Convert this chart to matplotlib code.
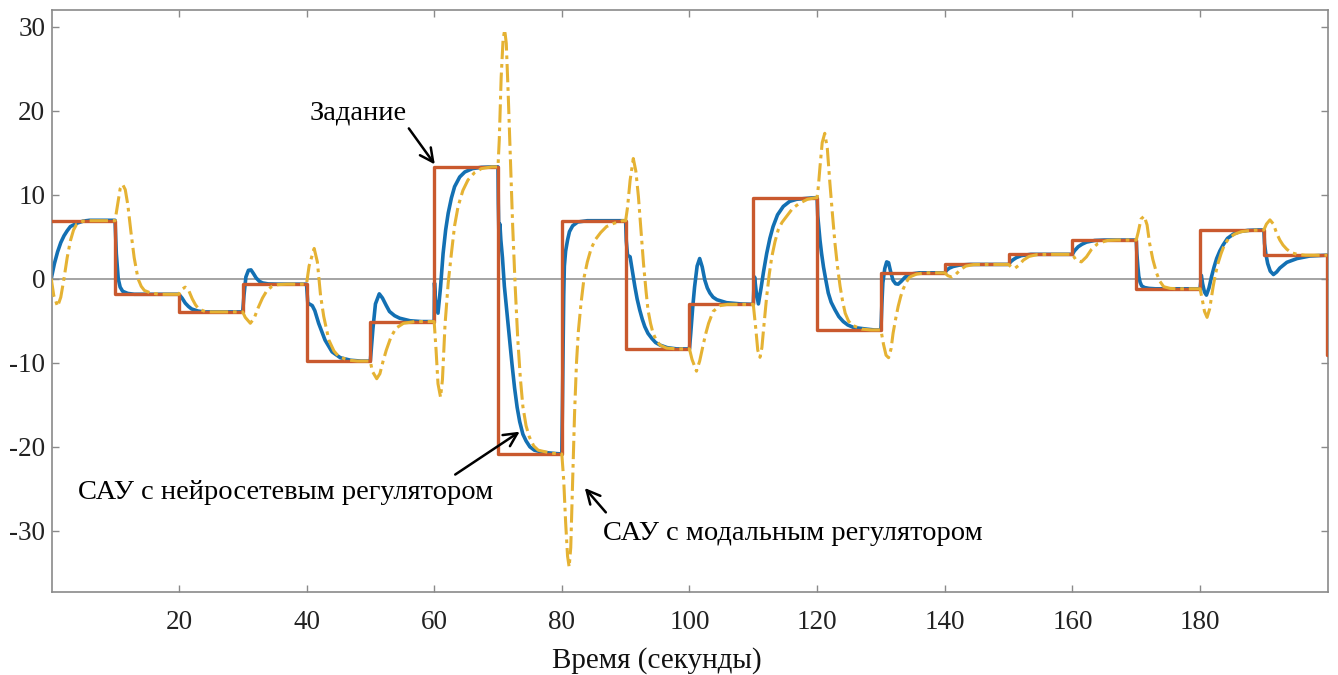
import matplotlib
matplotlib.use("Agg")
import matplotlib.pyplot as plt

# ---------------- data ----------------
ref_times = [0, 10, 20, 30, 40, 50, 60, 70, 80, 90, 100, 110, 120, 130, 140, 150,
             160, 170, 180, 190, 199.85, 200]
ref_levels = [6.9, -1.85, -3.95, -0.65, -9.8, -5.1, 13.3, -20.85, 6.9, -8.35, -3.05,
              9.65, -6.1, 0.7, 1.7, 2.9, 4.6, -1.2, 5.8, 2.8, -9.1, -9.1]

t_nn = [0, 0.5, 1, 1.5, 2, 2.5, 3, 4, 5, 6, 8,
        10, 10.2, 10.5, 10.8, 11.2, 12, 13,
        20, 20.5, 21, 21.5, 22, 23, 24, 25.5,
        30, 30.2, 30.5, 30.9, 31.3, 31.7, 32.1, 32.6, 33.1, 34, 35.5,
        40, 40.2, 40.9, 41.3, 41.9, 42.9, 44, 45.3, 46.9, 48.5,
        50, 50.4, 50.8, 51.4, 51.9, 52.5, 53, 53.8, 54.6, 56.2, 58,
        60, 60.05, 60.2, 60.6, 61, 61.4, 61.8, 62.2, 62.7, 63.2, 64, 64.8, 66, 67.4, 69,
        70, 70.05, 70.15, 70.3, 70.45, 70.7, 71.0, 71.4, 71.8, 72.2, 72.6, 73.0, 73.4,
        73.9, 74.4, 75, 75.7, 77, 79,
        80, 80.1, 80.2, 80.3, 80.4, 80.6, 80.9, 81.2, 81.7, 82.5, 84, 86,
        90, 90.1, 90.3, 90.7, 91.0, 91.45, 91.8, 92.2, 92.6, 93.0, 93.5, 94.1, 94.7,
        95.4, 96.5, 98,
        100, 100.2, 100.5, 100.8, 101.2, 101.6, 102.0, 102.4, 102.8, 103.2, 103.7,
        104.3, 105.8, 108,
        110, 110.1, 110.2, 110.45, 110.8, 111.2, 111.6, 112.1, 112.6, 113.1, 113.8,
        114.7, 115.7, 116.8, 119,
        120, 120.1, 120.45, 120.7, 121.0, 121.4, 121.75, 122.2, 122.8, 123.4, 124.1,
        124.8, 125.7, 127.8, 129,
        130, 130.15, 130.3, 130.6, 130.9, 131.2, 131.5, 131.9, 132.3, 132.7, 133.2,
        133.8, 134.6, 136,
        140, 140.3, 140.7, 141.3, 142.3, 144,
        150, 150.3, 150.7, 151.2, 152, 153.5,
        160, 160.3, 160.9, 161.5, 162.2, 163.5, 165,
        170, 170.1, 170.25, 170.4, 170.6, 170.85, 171.3, 172, 173,
        180, 180.1, 180.2, 180.4, 180.7, 181.0, 181.4, 181.8, 182.2, 182.6, 183.1,
        183.6, 184.3, 185.2, 186.2, 187.5, 189,
        190, 190.1, 190.3, 190.6, 191.0, 191.5, 192.0, 192.5, 193.6, 195.2, 197.2, 199.9]
y_nn = [0, 1.8, 3.2, 4.3, 5.1, 5.7, 6.2, 6.6, 6.85, 6.95, 6.95,
        6.95, 3.0, 0.0, -1.0, -1.5, -1.75, -1.85,
        -1.85, -2.3, -2.9, -3.3, -3.6, -3.85, -3.95, -3.95,
        -3.95, -2.0, 0.2, 1.0, 1.05, 0.6, 0.1, -0.3, -0.5, -0.62, -0.65,
        -0.65, -2.9, -3.2, -3.8, -5.3, -7.3, -8.7, -9.4, -9.7, -9.8,
        -9.8, -6.0, -3.0, -1.8, -2.3, -3.2, -3.9, -4.4, -4.7, -5.0, -5.1,
        -5.1, -0.5, -2.5, -4.1, -1.0, 3.0, 5.8, 7.8, 9.6, 10.95, 12.1, 12.7, 13.1, 13.25, 13.3,
        13.3, 9.0, 5.0, 6.5, 4.6, 2.5, -0.9, -4.0, -7.2, -10.2, -13.0, -15.3, -17.0,
        -18.5, -19.3, -20.0, -20.4, -20.65, -20.8,
        -20.85, -15.0, -8.0, -2.0, 1.5, 3.3, 4.6, 5.6, 6.3, 6.75, 6.9, 6.9,
        6.9, 4.5, 2.8, 2.6, 1.2, -0.95, -2.4, -3.7, -4.8, -5.7, -6.5, -7.1, -7.6,
        -7.9, -8.2, -8.35,
        -8.35, -6.5, -3.5, -1.0, 1.5, 2.4, 1.4, -0.15, -1.1, -1.7, -2.2,
        -2.5, -2.85, -3.0,
        -3.05, -1.0, 0.2, -1.5, -3.0, -1.2, 0.8, 3.0, 4.8, 6.2, 7.6,
        8.6, 9.2, 9.45, 9.6,
        9.65, 7.5, 4.6, 3.0, 1.4, -0.3, -1.7, -2.8, -3.7, -4.5, -5.1,
        -5.5, -5.8, -6.0, -6.1,
        -6.1, -3.0, -0.5, 1.2, 2.0, 1.9, 0.9, -0.2, -0.6, -0.65, -0.3,
        0.2, 0.55, 0.7,
        0.7, 1.0, 1.25, 1.45, 1.62, 1.7,
        1.7, 2.0, 2.25, 2.5, 2.75, 2.9,
        2.9, 3.3, 3.8, 4.1, 4.35, 4.55, 4.6,
        4.6, 3.0, 1.5, 0.3, -0.4, -0.85, -1.05, -1.15, -1.2,
        -1.2, -0.5, 0.4, -0.6, -1.6, -1.95, -1.1, 0.25, 1.4, 2.4, 3.3,
        4.0, 4.8, 5.3, 5.6, 5.75, 5.8,
        5.8, 4.2, 3.0, 1.8, 0.9, 0.5, 0.8, 1.27, 1.95, 2.4, 2.7, 2.8]

t_modal = [0, 0.4, 1.0, 1.5, 2, 2.5, 3, 3.5, 4, 5, 6,
           10, 10.4, 10.8, 11.2, 11.6, 12.0, 12.5, 13, 13.6, 14.1, 14.6, 15.6, 17,
           20, 20.4, 21.0, 21.6, 22.1, 22.6, 23.1, 24.1, 25,
           30, 30.4, 31.2, 31.8, 32.4, 33.1, 33.8, 34.6, 35.6, 37,
           40, 40.4, 41.2, 41.7, 42.2, 42.7, 43.5, 44.3, 45.1, 46.7, 48,
           50, 50.3, 51.0, 51.5, 52.0, 52.5, 53.2, 54.0, 55.2, 57,
           60, 60.3, 60.6, 61.0, 61.3, 61.7, 62.2, 62.7, 63.2, 63.75, 64.5, 65.3, 66.3,
           67.4, 69,
           70, 70.2, 70.5, 70.8, 71.05, 71.3, 71.6, 71.95, 72.3, 72.7, 73.1, 73.5, 73.9,
           74.4, 74.9, 75.6, 76.3, 78, 79.5,
           80, 80.3, 80.6, 80.9, 81.15, 81.4, 81.7, 82.0, 82.3, 82.6, 83.0, 83.5, 84,
           84.6, 85.3, 86.1, 87, 88.2, 89.5,
           90, 90.3, 90.7, 91.2, 91.6, 92.0, 92.4, 92.8, 93.2, 93.5, 93.9, 94.3, 94.8,
           95.4, 96.4, 98,
           100, 100.4, 101.1, 101.6, 102.2, 102.6, 103.0, 103.7, 104.8, 106,
           110, 110.4, 110.7, 111.05, 111.35, 111.6, 112.1, 112.5, 112.9, 113.4, 113.9,
           114.5, 115.2, 116.2, 117.3, 118.5, 119.5,
           120, 120.2, 120.45, 120.8, 121.2, 121.6, 122.0, 122.4, 122.8, 123.2, 123.6,
           124.0, 124.4, 124.9, 125.4, 127, 128.5,
           130, 130.4, 130.8, 131.2, 131.6, 131.9, 132.3, 132.7, 133.1, 133.5, 134.0,
           134.5, 135.6, 137,
           140, 140.5, 141.1, 141.7, 142.5, 143.3, 144.5, 146,
           150, 150.4, 151.0, 151.6, 152.3, 153.2, 154.5, 156,
           160, 160.5, 161.4, 162.2, 163, 164, 165.5, 167,
           170, 170.3, 170.75, 171.25, 171.7, 172.1, 172.6, 173.2, 173.7, 174.3, 175.3,
           176.5,
           180, 180.35, 180.7, 181.1, 181.5, 182.05, 182.4, 182.8, 183.3, 183.8, 184.5,
           185.4, 186.5, 188, 189.5,
           190, 190.4, 190.95, 191.5, 192.0, 192.5, 193.0, 193.6, 194.3, 195.2, 196.5,
           199.9]
y_modal = [0, -2.0, -3.3, -2.2, 0, 2.5, 4.5, 5.8, 6.5, 6.85, 6.9,
           6.9, 8.8, 10.7, 11.2, 10.6, 8.8, 5.5, 2.5, 0, -0.9, -1.4, -1.7, -1.85,
           -1.85, -1.3, -1.0, -1.5, -2.4, -3.1, -3.6, -3.9, -3.95,
           -3.95, -4.6, -5.3, -4.7, -3.5, -2.3, -1.4, -0.9, -0.7, -0.65,
           -0.65, 1.5, 3.6, 2.0, -2.0, -4.5, -7.3, -8.6, -9.3, -9.7, -9.8,
           -9.8, -11.0, -11.9, -11.3, -9.8, -8.5, -7.0, -5.9, -5.3, -5.1,
           -5.1, -8.5, -12.5, -14.1, -12.0, -5.5, -0.5, 3.0, 6.3, 8.6, 10.5, 11.75, 12.6,
           13.1, 13.3,
           13.3, 16.5, 24.0, 28.5, 29.6, 28.0, 22.0, 14.0, 6.3, -1.0, -7.2, -11.8, -15.2,
           -17.5, -18.8, -19.9, -20.4, -20.7, -20.85,
           -20.85, -24.0, -29.0, -33.0, -34.3, -32.0, -24.0, -16.0, -10.0, -6.2, -3.0, 0.2, 2.0,
           3.6, 4.7, 5.5, 6.2, 6.6, 6.9,
           6.9, 8.5, 11.7, 14.3, 12.8, 9.8, 5.8, 1.8, -1.5, -3.7, -5.3, -6.5, -7.3,
           -7.9, -8.25, -8.35,
           -8.35, -9.6, -11.0, -9.8, -7.7, -6.4, -5.3, -3.9, -3.2, -3.05,
           -3.05, -6.0, -8.5, -9.35, -8.2, -6.1, -2.1, 0.5, 2.6, 4.4, 5.8,
           6.7, 7.4, 8.4, 9.0, 9.45, 9.6,
           9.65, 11.0, 13.3, 16.2, 17.3, 15.5, 11.4, 7.7, 4.2, 1.4, -0.9,
           -2.7, -4.1, -5.0, -5.5, -6.0, -6.1,
           -6.1, -7.8, -9.1, -9.4, -8.3, -6.5, -4.8, -3.3, -2.1, -1.2, -0.4,
           0.2, 0.55, 0.7,
           0.7, 0.35, 0.2, 0.5, 1.1, 1.5, 1.68, 1.7,
           1.7, 1.4, 1.25, 1.6, 2.2, 2.65, 2.87, 2.9,
           2.9, 2.3, 2.0, 2.6, 3.5, 4.2, 4.55, 4.6,
           4.6, 5.5, 7.1, 7.45, 6.4, 4.2, 2.3, 0.64, -0.3, -0.95, -1.15,
           -1.2,
           -1.2, -2.5, -3.9, -4.6, -3.6, -0.95, 0.5, 1.8, 3.0, 4.0, 4.8,
           5.3, 5.6, 5.75, 5.8,
           5.8, 6.5, 7.0, 6.5, 5.4, 4.6, 4.0, 3.5, 3.1, 2.9, 2.8,
           2.8]

x_ticks = [20, 40, 60, 80, 100, 120, 140, 160, 180]
y_ticks = [-30, -20, -10, 0, 10, 20, 30]
y_tick_labels = ["-30", "-20", "-10", "0", "10", "20", "30"]

xlabel = "Время (секунды)"
label_ref = "Задание"
label_nn = "САУ с нейросетевым регулятором"
label_modal = "САУ с модальным регулятором"

# ---------------- style ----------------
SERIF = ["Liberation Serif", "DejaVu Serif"]
plt.rcParams["font.family"] = SERIF

c_ref = "#C9592E"
c_nn = "#1370B3"
c_modal = "#E5B233"
c_axis = "#8a8a8a"

fig = plt.figure(figsize=(13.38, 6.75), dpi=100)
ax = fig.add_axes([52.3 / 1338, 1 - 592.3 / 675, (1327.7 - 52.3) / 1338, (592.3 - 10) / 675])

ax.axhline(0, color="#8c8c8c", lw=1.1, zorder=1)
ax.plot(t_nn, y_nn, color=c_nn, lw=2.6, zorder=2, solid_joinstyle="round")
ax.step(ref_times, ref_levels, where="post", color=c_ref, lw=2.4, zorder=3)
ax.plot(t_modal, y_modal, color=c_modal, lw=2.2, zorder=4,
        linestyle=(0, (6, 1.6, 1.2, 1.6)))

ax.set_xlim(0.17, 200)
ax.set_ylim(-37.31, 31.97)
ax.set_xticks(x_ticks)
ax.set_yticks(y_ticks)
ax.set_yticklabels(y_tick_labels)
ax.tick_params(direction="in", length=5, width=1.0, color=c_axis,
               top=True, right=True, labelsize=19.5, labelcolor="#222222")
ax.tick_params(axis="x", pad=13)
ax.tick_params(axis="y", pad=5)
for s in ax.spines.values():
    s.set_color(c_axis)
    s.set_linewidth(1.2)

fig.text(657 / 1338, 1 - 661 / 675, xlabel, ha="center", va="center",
         fontsize=21, color="#111111")

arrow = dict(arrowstyle="->", lw=1.8, color="black", mutation_scale=24)
ax.annotate(label_ref, xy=(60.1, 13.6), xytext=(40.5, 19.7), fontsize=20.5,
            va="center", ha="left", arrowprops=dict(arrow, shrinkA=0, shrinkB=0,
                                                     relpos=(1.0, 0.0)))
ax.annotate(label_nn, xy=(4.2, -25.4), xytext=(4.2, -25.4), fontsize=20.5,
            va="center", ha="left")
ax.annotate("", xy=(73.4, -18.2), xytext=(63.3, -23.3), arrowprops=dict(arrow, shrinkA=0, shrinkB=0))
ax.annotate(label_modal, xy=(86.4, -30.3), xytext=(86.4, -30.3), fontsize=20.5,
            va="center", ha="left")
ax.annotate("", xy=(83.6, -24.9), xytext=(86.9, -27.8), arrowprops=dict(arrow, shrinkA=0, shrinkB=0))

fig.savefig("out.png", dpi=100)
